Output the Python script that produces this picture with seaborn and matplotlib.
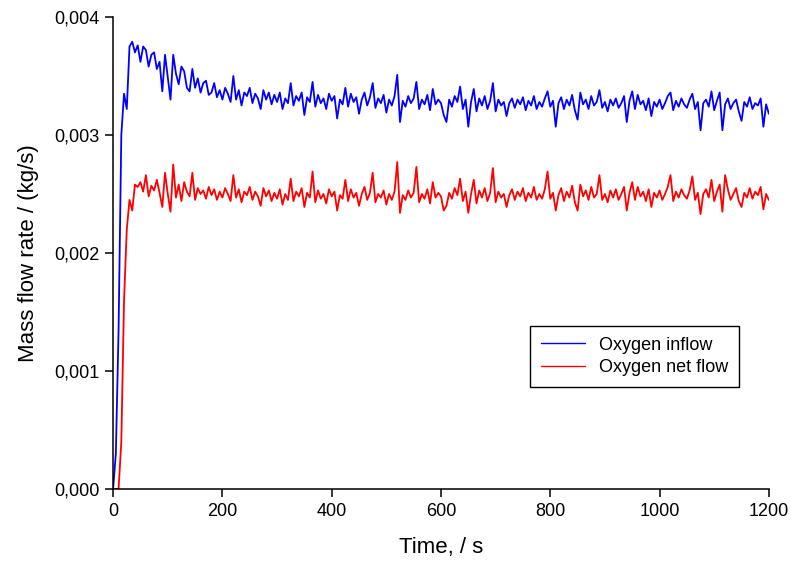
import numpy as np
import pandas as pd
import matplotlib
matplotlib.use("Agg")
import matplotlib.pyplot as plt
from matplotlib.ticker import FuncFormatter
import seaborn as sns

# time axis, s (sampling every 5 s)
time_s = np.arange(0, 1201, 5)

# Oxygen inflow, g/s
inflow_gs = [
    0.00, 0.30, 1.35, 3.00, 3.35, 3.22, 3.75, 3.79, 3.70, 3.76,
    3.62, 3.75, 3.72, 3.58, 3.68, 3.70, 3.56, 3.62, 3.37, 3.68,
    3.49, 3.30, 3.68, 3.52, 3.43, 3.58, 3.54, 3.40, 3.37, 3.56,
    3.40, 3.48, 3.36, 3.44, 3.46, 3.34, 3.36, 3.44, 3.32, 3.38,
    3.30, 3.40, 3.35, 3.28, 3.50, 3.30, 3.38, 3.25, 3.36, 3.33,
    3.40, 3.27, 3.35, 3.31, 3.22, 3.38, 3.30, 3.36, 3.26, 3.34,
    3.28, 3.36, 3.22, 3.31, 3.27, 3.44, 3.25, 3.33, 3.29, 3.36,
    3.17, 3.32, 3.28, 3.45, 3.24, 3.34, 3.27, 3.31, 3.22, 3.35,
    3.29, 3.33, 3.14, 3.30, 3.26, 3.40, 3.24, 3.35, 3.28, 3.32,
    3.18, 3.30, 3.36, 3.25, 3.32, 3.44, 3.23, 3.31, 3.27, 3.34,
    3.19, 3.30, 3.25, 3.33, 3.51, 3.11, 3.29, 3.24, 3.33, 3.27,
    3.31, 3.45, 3.22, 3.30, 3.26, 3.34, 3.21, 3.39, 3.26, 3.30,
    3.27, 3.17, 3.11, 3.30, 3.24, 3.33, 3.28, 3.41, 3.22, 3.30,
    3.07, 3.28, 3.39, 3.20, 3.31, 3.25, 3.33, 3.22, 3.29, 3.44,
    3.20, 3.30, 3.25, 3.28, 3.16, 3.27, 3.31, 3.23, 3.30, 3.26,
    3.32, 3.21, 3.29, 3.25, 3.33, 3.22, 3.28, 3.24, 3.31, 3.37,
    3.24, 3.29, 3.07, 3.27, 3.32, 3.22, 3.30, 3.25, 3.34, 3.21,
    3.13, 3.36, 3.26, 3.30, 3.22, 3.33, 3.25, 3.28, 3.38, 3.23,
    3.28, 3.20, 3.30, 3.25, 3.31, 3.23, 3.27, 3.33, 3.11, 3.29,
    3.37, 3.22, 3.34, 3.26, 3.29, 3.21, 3.31, 3.16, 3.28, 3.24,
    3.30, 3.22, 3.27, 3.33, 3.36, 3.21, 3.29, 3.24, 3.31, 3.26,
    3.23, 3.30, 3.35, 3.22, 3.28, 3.04, 3.27, 3.30, 3.24, 3.37,
    3.21, 3.29, 3.36, 3.04, 3.26, 3.31, 3.22, 3.27, 3.30, 3.20,
    3.12, 3.28, 3.24, 3.32, 3.22, 3.27, 3.25, 3.31, 3.07, 3.26,
    3.18,
]

# Oxygen net flow, g/s
netflow_gs = [
    0.00, 0.00, 0.00, 0.40, 1.60, 2.20, 2.45, 2.36, 2.58, 2.56,
    2.60, 2.52, 2.66, 2.48, 2.57, 2.53, 2.62, 2.51, 2.39, 2.68,
    2.50, 2.35, 2.75, 2.47, 2.58, 2.44, 2.60, 2.52, 2.48, 2.68,
    2.45, 2.55, 2.50, 2.53, 2.46, 2.56, 2.49, 2.54, 2.45, 2.52,
    2.47, 2.55, 2.50, 2.44, 2.66, 2.47, 2.54, 2.43, 2.52, 2.49,
    2.56, 2.45, 2.52, 2.48, 2.40, 2.55, 2.48, 2.53, 2.44, 2.51,
    2.46, 2.54, 2.41, 2.50, 2.45, 2.63, 2.44, 2.52, 2.48, 2.55,
    2.39, 2.51, 2.47, 2.69, 2.43, 2.53, 2.46, 2.50, 2.42, 2.54,
    2.48, 2.52, 2.36, 2.49, 2.46, 2.62, 2.44, 2.54, 2.47, 2.51,
    2.40, 2.50, 2.56, 2.45, 2.51, 2.68, 2.43, 2.50, 2.47, 2.53,
    2.41, 2.50, 2.45, 2.52, 2.77, 2.34, 2.49, 2.45, 2.53, 2.47,
    2.51, 2.73, 2.43, 2.50, 2.46, 2.54, 2.42, 2.60, 2.47, 2.51,
    2.48, 2.36, 2.40, 2.51, 2.46, 2.55, 2.49, 2.63, 2.44, 2.52,
    2.34, 2.50, 2.62, 2.42, 2.53, 2.47, 2.55, 2.44, 2.51, 2.72,
    2.43, 2.52, 2.47, 2.50, 2.39, 2.49, 2.54, 2.45, 2.52, 2.48,
    2.55, 2.44, 2.51, 2.47, 2.56, 2.45, 2.50, 2.46, 2.54, 2.69,
    2.46, 2.51, 2.36, 2.49, 2.55, 2.44, 2.52, 2.47, 2.57, 2.43,
    2.36, 2.58, 2.48, 2.53, 2.45, 2.56, 2.47, 2.50, 2.66, 2.45,
    2.50, 2.43, 2.53, 2.47, 2.54, 2.45, 2.50, 2.56, 2.36, 2.51,
    2.60, 2.45, 2.56, 2.48, 2.52, 2.44, 2.54, 2.39, 2.51, 2.47,
    2.53, 2.45, 2.50, 2.56, 2.66, 2.44, 2.52, 2.47, 2.54, 2.49,
    2.46, 2.53, 2.65, 2.45, 2.51, 2.33, 2.50, 2.54, 2.47, 2.62,
    2.44, 2.52, 2.58, 2.35, 2.66, 2.54, 2.45, 2.50, 2.55, 2.44,
    2.39, 2.51, 2.47, 2.55, 2.46, 2.52, 2.49, 2.56, 2.37, 2.50,
    2.45,
]

series_names = ["Oxygen inflow", "Oxygen net flow"]
series_colors = ["#0000ff", "#ff0000"]
x_ticks = [0, 200, 400, 600, 800, 1000, 1200]
y_ticks = [0.000, 0.001, 0.002, 0.003, 0.004]

df = pd.concat([
    pd.DataFrame({"Time": time_s, "Flow": np.asarray(inflow_gs) / 1000.0, "Series": series_names[0]}),
    pd.DataFrame({"Time": time_s, "Flow": np.asarray(netflow_gs) / 1000.0, "Series": series_names[1]}),
], ignore_index=True)

sns.set_theme(style="ticks")
plt.rcParams["font.family"] = ["Liberation Sans", "DejaVu Sans"]
plt.rcParams["text.color"] = "black"
plt.rcParams["axes.labelcolor"] = "black"

fig = plt.figure(figsize=(7.91, 5.67), dpi=100)
ax = fig.add_axes([0.143, 0.1376, 0.829, 0.8324])

sns.lineplot(data=df, x="Time", y="Flow", hue="Series", hue_order=series_names,
             palette=dict(zip(series_names, series_colors)), estimator=None,
             sort=False, linewidth=1.3, ax=ax)

ax.set_xlim(0, 1200)
ax.set_ylim(0, 0.004)
ax.set_xticks(x_ticks)
ax.set_yticks(y_ticks)
ax.yaxis.set_major_formatter(FuncFormatter(lambda v, p: f"{v:.3f}".replace(".", ",")))
ax.xaxis.set_major_formatter(FuncFormatter(lambda v, p: f"{v:.0f}"))

for s in ["left", "bottom"]:
    ax.spines[s].set_linewidth(1.1)
    ax.spines[s].set_color("black")
sns.despine(ax=ax)
ax.tick_params(direction="out", length=6, width=1.1, labelsize=13, pad=4, colors="black")

ax.set_xlabel("Time, / s", fontsize=16, labelpad=12, color="black")
ax.set_ylabel("Mass flow rate / (kg/s)", fontsize=16, labelpad=11, color="black")

old = ax.get_legend()
handles = old.legend_handles
labels = [t.get_text() for t in old.get_texts()]
old.remove()
leg = ax.legend(handles, labels, loc="center", bbox_to_anchor=(0.7955, 0.281),
                fontsize=13, frameon=True, fancybox=False, shadow=False,
                handlelength=2.4, handletextpad=0.8, borderpad=0.6,
                labelspacing=0.3, borderaxespad=0)
leg.get_frame().set_edgecolor("black")
leg.get_frame().set_linewidth(1.0)
leg.get_frame().set_alpha(1)
for h in leg.legend_handles:
    h.set_linewidth(1.0)
for t in leg.get_texts():
    t.set_color("black")

fig.savefig("out.png", dpi=100)
